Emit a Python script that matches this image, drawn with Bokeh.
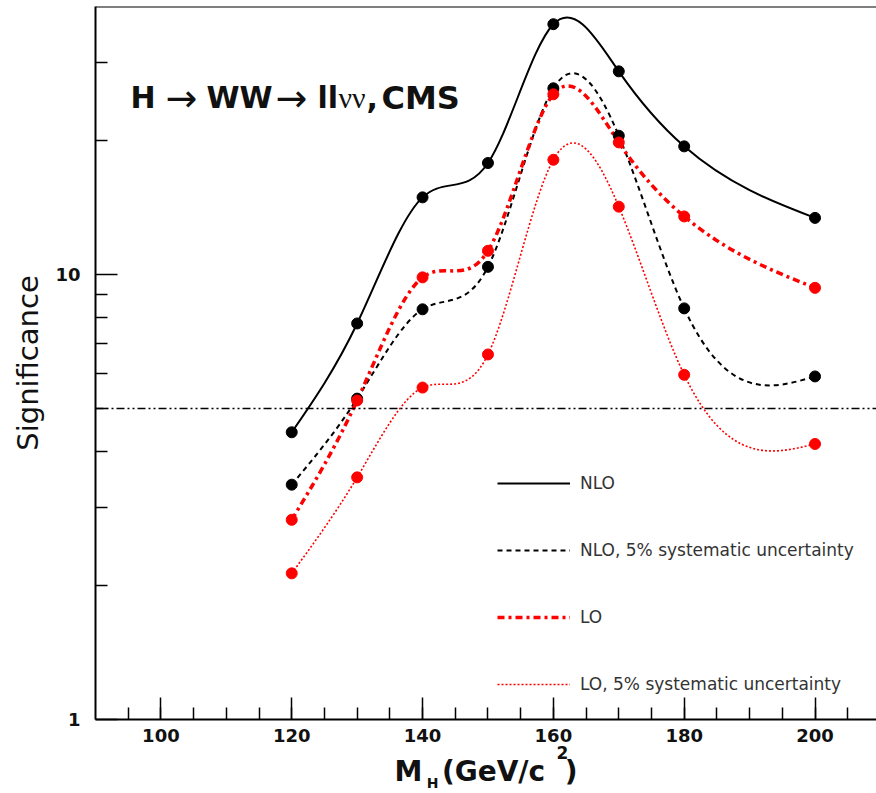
import numpy as np
from bokeh.plotting import figure
from bokeh.models import (Range1d, FixedTicker, BasicTickFormatter, Span, Label,
                          Legend, LegendItem, ColumnDataSource, LinearAxis)
from bokeh.embed import file_html
from bokeh.resources import INLINE

# ---------------- data ----------------
mass = [120, 130, 140, 150, 160, 170, 180, 200]
nlo = [4.42, 7.76, 14.9, 17.8, 36.5, 28.6, 19.4, 13.4]
nlo_sys = [3.37, 5.26, 8.35, 10.4, 26.2, 20.5, 8.39, 5.90]
lo = [2.81, 5.21, 9.85, 11.3, 25.4, 19.8, 13.5, 9.33]
lo_sys = [2.13, 3.50, 5.57, 6.61, 18.1, 14.2, 5.95, 4.16]
discovery_level = 5.0

x_ticks = [100, 120, 140, 160, 180, 200]
x_minor = list(range(95, 210, 5))
y_ticks = [1, 10]
y_minor = [2, 3, 4, 5, 6, 7, 8, 9, 20, 30]

labels = ["NLO", "NLO, 5% systematic uncertainty", "LO", "LO, 5% systematic uncertainty"]
NB = "\u00a0"
x_title_main = "M" + NB * 2 + "(GeV/c" + NB * 2 + ")"
x_title_sub = "H"
x_title_sup = "2"

# ---------------- geometry ----------------
W, H = 876, 793
X0, X1 = 90, 209.4
Y0, Y1 = 1, 40
FL, FR, FT, FB = 95, 876, 6, 719


def px_x(px):
    return X0 + (px - FL) * (X1 - X0) / (FR - FL)


def px_y(py):
    return 10 ** ((FB - py) / (FB - FT) * np.log10(Y1 / Y0))


def smooth_segments(x, y):
    """Natural cubic spline through the points (x, log y), as Bezier segments."""
    x = np.asarray(x, float)
    ly = np.log10(np.asarray(y, float))
    n = len(x)
    h = np.diff(x)
    A = np.zeros((n, n))
    b = np.zeros(n)
    A[0, 0] = A[-1, -1] = 1
    for i in range(1, n - 1):
        A[i, i - 1] = h[i - 1]
        A[i, i] = 2 * (h[i - 1] + h[i])
        A[i, i + 1] = h[i]
        b[i] = 6 * ((ly[i + 1] - ly[i]) / h[i] - (ly[i] - ly[i - 1]) / h[i - 1])
    M = np.linalg.solve(A, b)
    x0, x1, y0, y1 = x[:-1], x[1:], ly[:-1], ly[1:]
    s = (y1 - y0) / h
    m0 = s - h * (2 * M[:-1] + M[1:]) / 6
    m1 = s + h * (M[:-1] + 2 * M[1:]) / 6
    return ColumnDataSource(dict(
        x0=x0, y0=10 ** y0, x1=x1, y1=10 ** y1,
        cx0=x0 + h / 3, cy0=10 ** (y0 + m0 * h / 3),
        cx1=x1 - h / 3, cy1=10 ** (y1 - m1 * h / 3)))


p = figure(width=W, height=H, x_range=Range1d(X0, X1), y_range=Range1d(Y0, Y1),
           y_axis_type="log", output_backend="svg", toolbar_location=None,
           min_border_left=FL, min_border_right=0, min_border_top=FT,
           min_border_bottom=H - FB)
p.background_fill_color = "white"
p.border_fill_color = "white"
p.outline_line_color = None
p.grid.visible = False

xax = p.xaxis[0]
yax = p.yaxis[0]
xax.ticker = FixedTicker(ticks=x_ticks, minor_ticks=x_minor)
yax.ticker = FixedTicker(ticks=y_ticks, minor_ticks=y_minor)
yax.formatter = BasicTickFormatter()
yax.major_label_overrides = {1: "1", 10: "10"}
for ax in (xax, yax):
    ax.axis_line_width = 2
    ax.axis_line_color = "black"
    ax.major_tick_in = 22
    ax.major_tick_out = 0
    ax.minor_tick_in = 12
    ax.minor_tick_out = 0
    ax.major_tick_line_width = 1.5
    ax.minor_tick_line_width = 1.5
    ax.major_tick_line_color = "black"
    ax.minor_tick_line_color = "black"
    ax.major_label_text_font = "DejaVu Sans"
    ax.major_label_text_font_style = "bold"
    ax.major_label_text_font_size = "18px"
    ax.major_label_text_color = "#111111"
    ax.axis_label_text_font = "DejaVu Sans"
    ax.axis_label_text_color = "#111111"
xax.major_label_standoff = 9
yax.major_label_standoff = 15
yax.axis_label = "Significance"
yax.axis_label_text_font_style = "normal"
yax.axis_label_text_font_size = "29px"
yax.axis_label_standoff = 7
xax.axis_label = x_title_main
xax.axis_label_text_font_style = "bold"
xax.axis_label_text_font_size = "28px"
xax.axis_label_standoff = 10


def text_axis(text, px, size, standoff):
    ax = LinearAxis(ticker=FixedTicker(ticks=[px_x(px)], minor_ticks=[]),
                    major_label_overrides={px_x(px): text})
    ax.axis_line_color = None
    ax.major_tick_line_color = None
    ax.minor_tick_line_color = None
    ax.major_tick_in = 0
    ax.major_tick_out = 0
    ax.minor_tick_in = 0
    ax.minor_tick_out = 0
    ax.major_label_standoff = standoff
    ax.major_label_text_font = "DejaVu Sans"
    ax.major_label_text_font_style = "bold"
    ax.major_label_text_font_size = size
    ax.major_label_text_color = "#111111"
    p.add_layout(ax, "below")
    return ax


text_axis(x_title_sub, 432, "14px", -16)
text_axis(x_title_sup, 562, "17px", -48)

# top border
p.add_layout(Span(location=Y1, dimension="width", line_color="black", line_width=2))

# 5 sigma line
p.add_layout(Span(location=discovery_level, dimension="width", line_color="black",
                  line_width=1.5, line_dash="8 3 2 3 2 3"))

# curves
styles = [
    (nlo, "black", 2.0, "solid"),
    (nlo_sys, "black", 2.0, "5 4"),
    (lo, "#ff0000", 3.5, "7 4 3 4"),
    (lo_sys, "#ff0000", 1.6, "2 2"),
]
curve_renderers = []
for vals, col, lw, dash in styles:
    r = p.bezier(x0="x0", y0="y0", x1="x1", y1="y1", cx0="cx0", cy0="cy0",
                 cx1="cx1", cy1="cy1", source=smooth_segments(mass, vals),
                 line_color=col, line_width=lw, line_dash=dash)
    curve_renderers.append(r)

for vals, col, lw, dash in styles:
    p.scatter(mass, vals, size=11, marker="circle", fill_color=col, line_color=col)

legend = Legend(items=[LegendItem(label=l, renderers=[r]) for l, r in zip(labels, curve_renderers)],
                location=(402, 25), orientation="vertical", glyph_width=73, glyph_height=20,
                label_height=20, spacing=47, padding=0, margin=0, border_line_color=None,
                background_fill_alpha=0, label_standoff=10, label_text_font="DejaVu Sans",
                label_text_font_size="17px", label_text_color="#333333")
p.add_layout(legend)

# title pieces (inside the frame)
title_parts = [
    ("H", 130, "bold", "DejaVu Sans", "30px"),
    ("\u2192", 165, "normal", "DejaVu Sans", "38px"),
    ("WW", 206, "bold", "DejaVu Sans", "30px"),
    ("\u2192", 275, "normal", "DejaVu Sans", "38px"),
    ("ll", 317, "bold", "DejaVu Sans", "30px"),
    ("\u03bd\u03bd", 338, "normal", "Liberation Serif", "30px"),
    (",", 366, "bold", "DejaVu Sans", "30px"),
    ("CMS", 381, "bold", "DejaVu Sans", "32px"),
]
for txt, px, style, font, fs in title_parts:
    p.add_layout(Label(x=px_x(px), y=px_y(97), text=txt, text_align="left",
                       text_baseline="alphabetic", text_font=font,
                       text_font_style=style, text_font_size=fs, text_color="#111111"))

open("out.html", "w").write(file_html(p, INLINE))
